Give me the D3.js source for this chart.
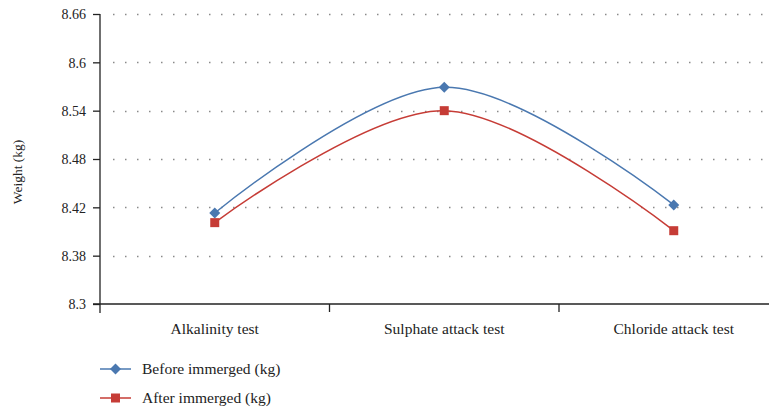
<!DOCTYPE html>
<html>
<head>
<meta charset="utf-8">
<script src="https://cdn.jsdelivr.net/npm/d3@7"></script>
<style>
  body { margin: 0; background: #fff; }
  text { font-family: "Liberation Serif", "DejaVu Serif", serif; fill: #222; }
</style>
</head>
<body>
<div id="chart"></div>
<script>
// data
const categories = ["Alkalinity test", "Sulphate attack test", "Chloride attack test"];
const before = [8.413, 8.569, 8.423];
const after = [8.401, 8.540, 8.391];
const seriesNames = ["Before immerged (kg)", "After immerged (kg)"];
const tickValues = [8.3, 8.36, 8.42, 8.48, 8.54, 8.6, 8.66];
const tickLabels = ["8.3", "8.38", "8.42", "8.48", "8.54", "8.6", "8.66"];

const width = 769, height = 413;
const plotLeft = 100, plotTop = 14, plotBottom = 304;

const svg = d3.select("#chart").append("svg")
    .attr("width", width)
    .attr("height", height);

const x = d3.scaleBand()
    .domain(categories)
    .range([plotLeft, plotLeft + 3 * 229.5]);

const y = d3.scaleLinear()
    .domain([8.3, 8.66])
    .range([plotBottom, plotTop]);

// dotted gridlines
svg.append("g")
    .selectAll("line")
    .data(tickValues.slice(1))
    .join("line")
        .attr("x1", 113)
        .attr("x2", width)
        .attr("y1", d => Math.round(y(d)) + 0.5)
        .attr("y2", d => Math.round(y(d)) + 0.5)
        .attr("stroke", "#8a8a8a")
        .attr("stroke-width", 1.5)
        .attr("stroke-dasharray", "1.5,10.5");

// y axis
const yAxis = svg.append("g")
    .attr("transform", `translate(${plotLeft},0)`)
    .call(d3.axisLeft(y)
        .tickValues(tickValues)
        .tickFormat((d, i) => tickLabels[i])
        .tickSize(7)
        .tickPadding(7));
yAxis.select(".domain").remove();
yAxis.selectAll("line").attr("stroke", "#222").attr("stroke-width", 1.3);
yAxis.selectAll("text").style("font-size", "14px").attr("dy", "0.35em");
svg.append("line")
    .attr("x1", plotLeft).attr("x2", plotLeft)
    .attr("y1", plotTop).attr("y2", plotBottom + 9)
    .attr("stroke", "#222").attr("stroke-width", 1.3);

// x axis
svg.append("line")
    .attr("x1", plotLeft - 7).attr("x2", width)
    .attr("y1", plotBottom).attr("y2", plotBottom)
    .attr("stroke", "#222").attr("stroke-width", 1.3);
svg.append("g")
    .selectAll("line")
    .data(categories.slice(1))
    .join("line")
        .attr("x1", d => x(d)).attr("x2", d => x(d))
        .attr("y1", plotBottom).attr("y2", plotBottom + 8)
        .attr("stroke", "#222").attr("stroke-width", 1.3);
svg.append("g")
    .selectAll("text")
    .data(categories)
    .join("text")
        .attr("x", d => x(d) + x.bandwidth() / 2)
        .attr("y", plotBottom + 30)
        .attr("text-anchor", "middle")
        .style("font-size", "15.5px")
        .text(d => d);

// y label
svg.append("text")
    .attr("transform", `translate(22,172) rotate(-90)`)
    .attr("text-anchor", "middle")
    .style("font-size", "13.5px")
    .text("Weight (kg)");

const colors = ["#4a78b0", "#c63c36"];
const line = d3.line()
    .x((d, i) => x(categories[i]) + x.bandwidth() / 2)
    .y(d => y(d))
    .curve(d3.curveCardinal.tension(0));

const series = [before, after];
series.forEach((s, k) => {
    svg.append("path")
        .datum(s)
        .attr("fill", "none")
        .attr("stroke", colors[k])
        .attr("stroke-width", 1.5)
        .attr("d", line);
});

function marker(g, k, cx, cy) {
    if (k === 0) {
        const r = 5.5;
        g.append("path")
            .attr("d", `M${cx},${cy - r}L${cx + r},${cy}L${cx},${cy + r}L${cx - r},${cy}Z`)
            .attr("fill", colors[0]);
    } else {
        g.append("rect")
            .attr("x", cx - 4.5).attr("y", cy - 4.5)
            .attr("width", 9).attr("height", 9)
            .attr("fill", colors[1]);
    }
}

series.forEach((s, k) => {
    const g = svg.append("g");
    s.forEach((v, i) => marker(g, k, x(categories[i]) + x.bandwidth() / 2, y(v)));
});

// legend
seriesNames.forEach((name, k) => {
    const ly = 369 + k * 29;
    const g = svg.append("g");
    g.append("line")
        .attr("x1", 100).attr("x2", 131)
        .attr("y1", ly).attr("y2", ly)
        .attr("stroke", colors[k]).attr("stroke-width", 1.5);
    marker(g, k, 115.5, ly);
    g.append("text")
        .attr("x", 142)
        .attr("y", ly)
        .attr("dy", "0.35em")
        .style("font-size", "15.5px")
        .text(name);
});
</script>
</body>
</html>
